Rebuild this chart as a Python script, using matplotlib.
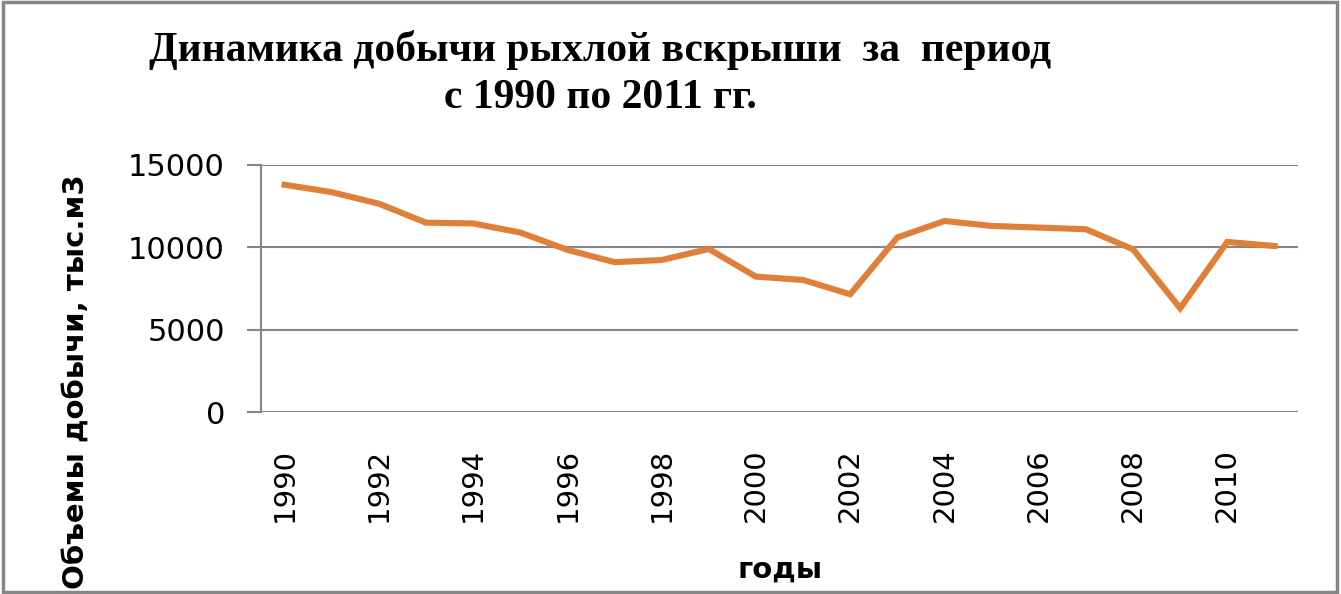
import numpy as np
import matplotlib.pyplot as plt
from matplotlib.patches import Rectangle

# данные по годам
years = list(range(1990, 2012))
volumes = [13800, 13350, 12650, 11500, 11450, 10900, 9850, 9100, 9230, 9900,
           8220, 8020, 7150, 10600, 11600, 11300, 11200, 11100, 9880, 6300,
           10330, 10080]
yticks = [0, 5000, 10000, 15000]

title1 = 'Динамика добычи рыхлой вскрыши  за  период'
title2 = 'с 1990 по 2011 гг.'
ylab = 'Объемы добычи, тыс.м3'
xlab = 'годы'

fig = plt.figure(figsize=(13.41, 5.94), dpi=100, facecolor='w')
ax = fig.add_axes([261 / 1341, 1 - 412 / 594, (1298 - 261) / 1341, (412 - 165) / 594])

x = np.arange(len(years))
ax.plot(x, volumes, color='#E07F37', lw=4.4, solid_joinstyle='miter', zorder=3)

ax.set_xlim(-0.5, len(years) - 0.5)
ax.set_ylim(0, 15000)
ax.set_yticks(yticks)
ax.set_yticklabels([str(v) for v in yticks], fontsize=22, family='DejaVu Sans')
ax.set_xticks(x[::2])
ax.set_xticklabels([str(y) for y in years[::2]], rotation=90, fontsize=21,
                   family='DejaVu Sans')
ax.tick_params(axis='x', length=0, pad=26)
ax.tick_params(axis='y', length=10, width=1.5, color='#868686', pad=16)

ax.grid(axis='y', color='#868686', lw=1.5)
for s in ['top', 'right', 'bottom']:
    ax.spines[s].set_visible(False)
ax.spines['left'].set_color('#868686')
ax.spines['left'].set_linewidth(1.5)
ax.set_axisbelow(True)

fig.text(77 / 1341, 1 - 382 / 594, ylab, rotation=90, ha='center', va='center',
         fontsize=21, fontweight='bold', family='DejaVu Sans')
fig.text(780 / 1341, 1 - 570 / 594, xlab, ha='center', va='center',
         fontsize=21, fontweight='bold', family='DejaVu Sans')

fig.text(600 / 1341, 1 - 50 / 594, title1, ha='center', va='center',
         fontsize=30, fontweight='bold', family='Liberation Serif')
fig.text(600 / 1341, 1 - 98 / 594, title2, ha='center', va='center',
         fontsize=30, fontweight='bold', family='Liberation Serif')

fig.patches.append(Rectangle((0.002, 0.003), 0.995, 0.993, transform=fig.transFigure,
                             fill=False, ec='#868686', lw=2.5))

fig.savefig('out.png', dpi=100)
